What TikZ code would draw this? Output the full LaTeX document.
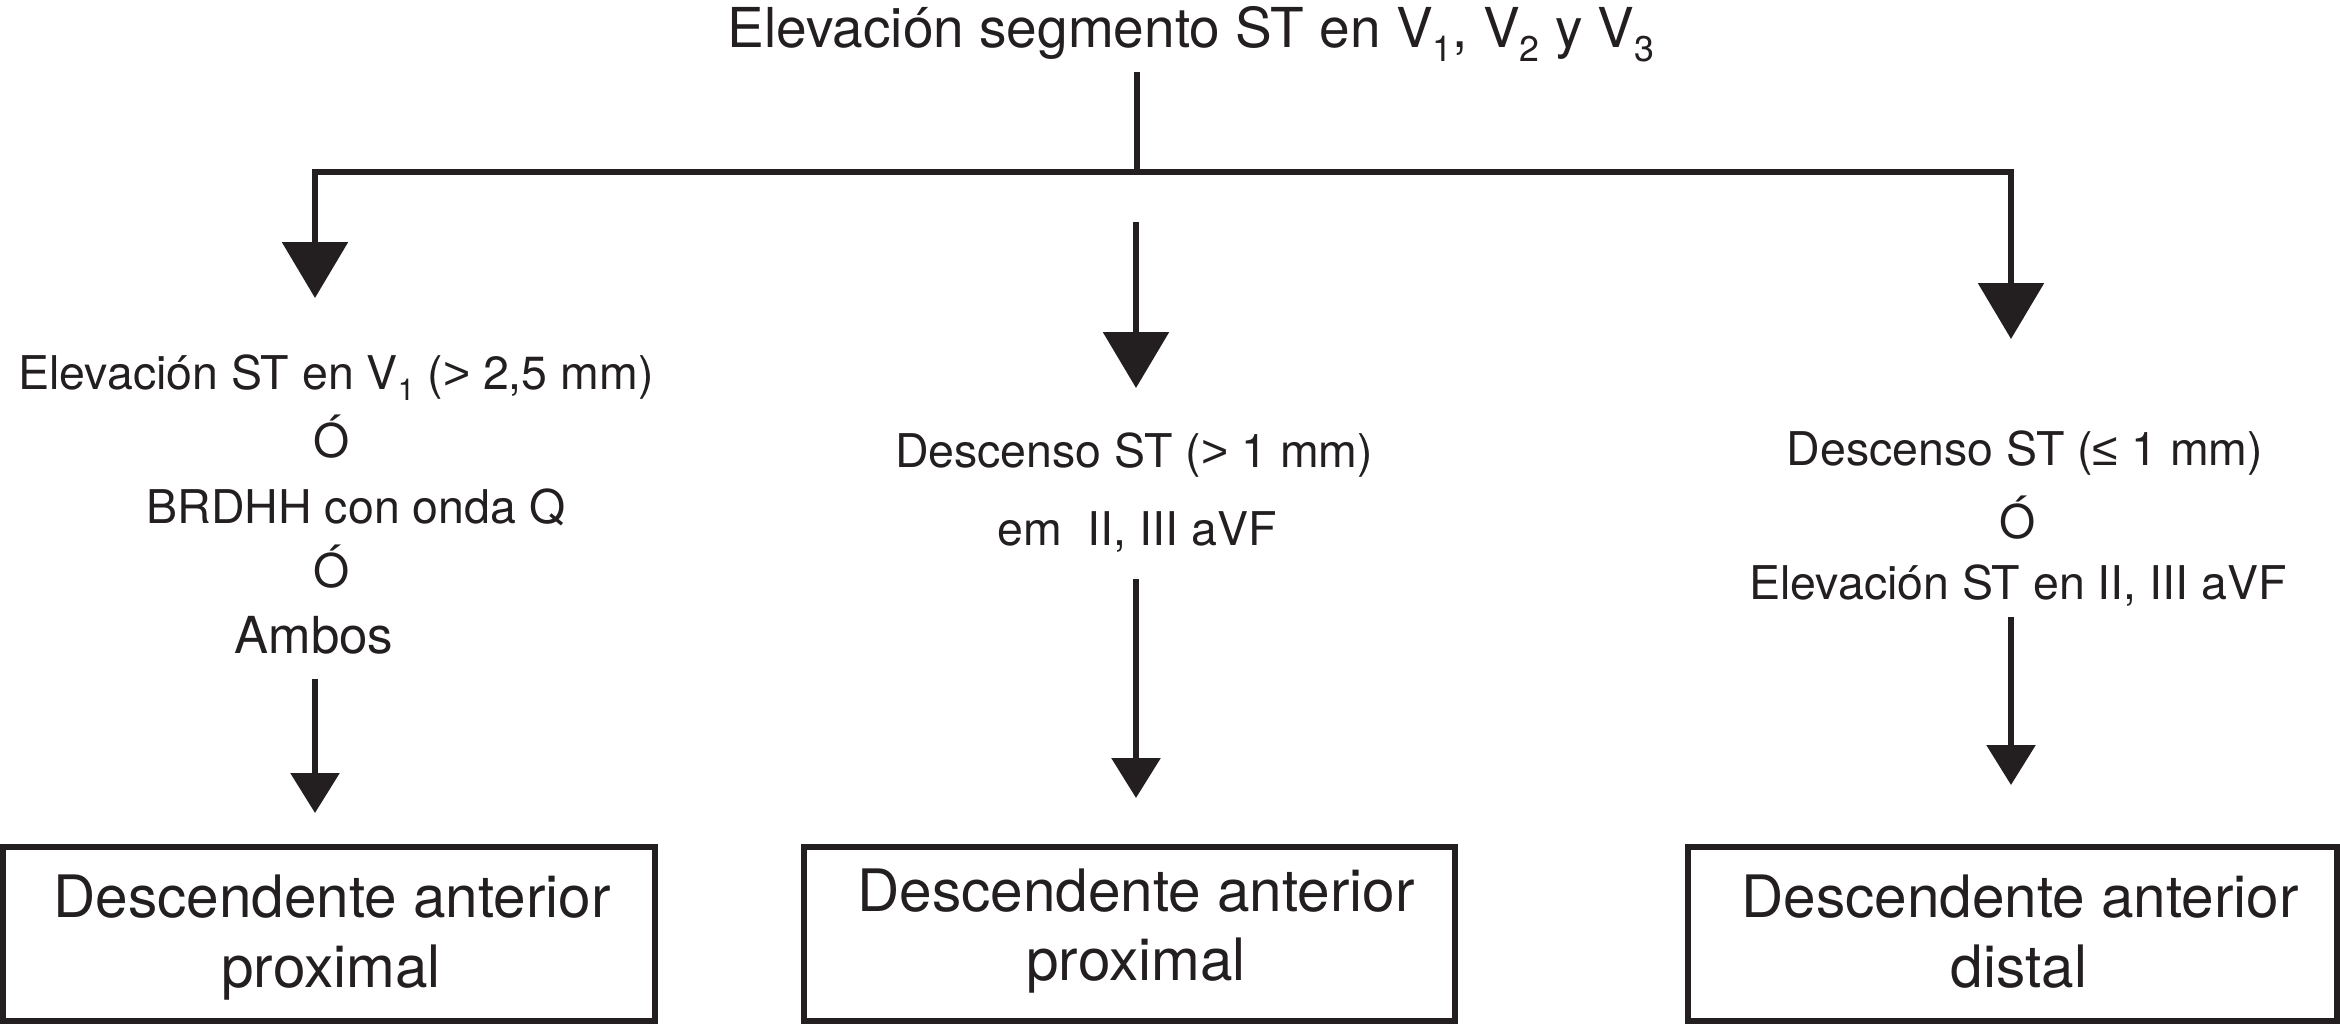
\documentclass[tikz,border=0pt]{standalone}
\usepackage{fontspec}
\setmainfont{TeX Gyre Heros}
\newfontfamily\libfont{Liberation Sans}
\usepackage{graphicx}
\usetikzlibrary{arrows.meta}
\definecolor{ink}{RGB}{35,31,32}
\newcommand\sbs[1]{\raisebox{-0.25em}{\scalebox{0.65}{#1}}}
\tikzset{
  txt/.style={inner sep=0pt, anchor=base, text=ink, font=\fontsize{46.5}{56}\selectfont},
  ttl/.style={txt, font=\fontsize{55}{66}\selectfont},
  bigtxt/.style={txt, font=\fontsize{51}{61}\selectfont},
  boxtxt/.style={txt, font=\fontsize{58.5}{70}\selectfont},
  res/.style={draw=ink, line width=6pt, minimum height=174pt, inner sep=0pt},
  conn/.style={draw=ink, line width=6pt, line join=miter},
  bigtip/.style={-{Triangle[width=65pt,length=56pt]}},
  smalltip/.style={-{Triangle[width=48pt,length=40pt]}},
}
\begin{document}
\begin{tikzpicture}[x=1pt,y=-1pt]
\useasboundingbox (0,0) rectangle (2340,1025);
% title
\node[ttl] (title) at (1191,48) {Elevación segmento ST en V\sbs{1}, V\sbs{2} y V\sbs{3}};
% left block
\node[txt] (l1) at (336,389) {Elevación ST en V\sbs{1} ({\libfont >} 2,5 mm)};
\node[txt] (l2) at (332,457) {Ó};
\node[txt] (l3) at (356,523) {BRDHH con onda Q};
\node[txt] (l4) at (332,587) {Ó};
\node[bigtxt] (l5) at (314,653) {Ambos};
% middle block
\node[txt] (m1) at (1134,467) {Descenso ST ({\libfont >} 1 mm)};
\node[txt] (m2) at (1137,545) {em\ \ II, III aVF};
% right block
\node[txt] (r1) at (2025,465) {Descenso ST ({\libfont ≤} 1 mm)};
\node[txt] (r2) at (2018,538) {Ó};
\node[txt] (r3) at (2018,599) {Elevación ST en II, III aVF};
% result boxes
\node[res, minimum width=651.5pt] (boxl) at (328.75,934) {};
\node[res, minimum width=651pt] (boxm) at (1129.5,934) {};
\node[res, minimum width=649pt] (boxr) at (2012.5,934) {};
\node[boxtxt] (bl1) at (332,917) {Descendente anterior};
\node[boxtxt] (bl2) at (331,987) {proximal};
\node[boxtxt] (bm1) at (1136,911) {Descendente anterior};
\node[boxtxt] (bm2) at (1136,980) {proximal};
\node[boxtxt] (br1) at (2020,917) {Descendente anterior};
\node[boxtxt] (br2) at (2019,987) {distal};
% connector points
\coordinate (ts) at (1137,72);
\coordinate (j) at (1137,172);
\coordinate (jl) at (315,172);
\coordinate (jr) at (2011,172);
\coordinate (al) at (315,298);
\coordinate (ar) at (2011,339);
\coordinate (am0) at (1136,222);
\coordinate (am1) at (1136,388);
\coordinate (ql0) at (315,679);
\coordinate (ql1) at (315,813);
\coordinate (qm0) at (1136,579);
\coordinate (qm1) at (1136,798);
\coordinate (qr0) at (2011,617);
\coordinate (qr1) at (2011,785);
% connectors
\draw[conn] (ts) -- (j);
\draw[conn, {Triangle[width=65pt,length=56pt]}-{Triangle[width=65pt,length=56pt]}] (al) -- (jl) -- (jr) -- (ar);
\draw[conn, bigtip] (am0) -- (am1);
\draw[conn, smalltip] (ql0) -- (ql1);
\draw[conn, smalltip] (qm0) -- (qm1);
\draw[conn, smalltip] (qr0) -- (qr1);
\end{tikzpicture}
\end{document}
